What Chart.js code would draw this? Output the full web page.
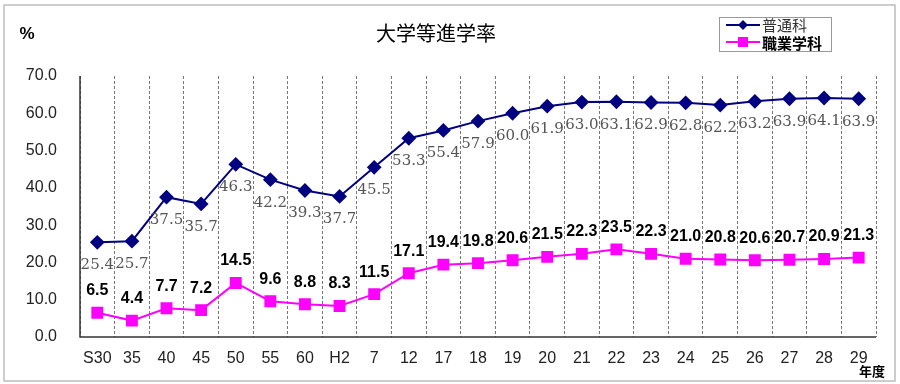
<!DOCTYPE html>
<html>
<head>
<meta charset="utf-8">
<script src="https://cdn.jsdelivr.net/npm/chart.js@4"></script>
<style>
  html, body { margin: 0; padding: 0; background: #fff; }
  #wrap { width: 900px; height: 384px; }
</style>
</head>
<body>
<div id="wrap"><canvas id="c" width="900" height="384"></canvas></div>
<script>
const years = ['S30','35','40','45','50','55','60','H2','7','12','17','18','19','20','21','22','23','24','25','26','27','28','29'];
const general = [25.4,25.7,37.5,35.7,46.3,42.2,39.3,37.7,45.5,53.3,55.4,57.9,60.0,61.9,63.0,63.1,62.9,62.8,62.2,63.2,63.9,64.1,63.9];
const vocational = [6.5,4.4,7.7,7.2,14.5,9.6,8.8,8.3,11.5,17.1,19.4,19.8,20.6,21.5,22.3,23.5,22.3,21.0,20.8,20.6,20.7,20.9,21.3];
const yTicks = [0,10,20,30,40,50,60,70];
const seriesNames = ['普通科','職業学科'];
const chartTitle = '大学等進学率';

const NAVY = '#000080';
const MAGENTA = '#ff00ff';
const sans = '"Liberation Sans", Arial, sans-serif';
const cjk = '"Noto Sans CJK JP", sans-serif';

// frame, title, legend, unit labels and value labels
const decor = {
  id: 'decor',
  afterDraw(chart) {
    const ctx = chart.ctx;
    const area = chart.chartArea;
    ctx.save();
    ctx.strokeStyle = '#bdbdbd';
    ctx.lineWidth = 1.5;
    ctx.strokeRect(4, 5, 891, 376);

    // solid axis lines over the dashed grid
    ctx.strokeStyle = '#333';
    ctx.lineWidth = 1.5;
    ctx.beginPath();
    ctx.moveTo(area.left, area.top);
    ctx.lineTo(area.left, area.bottom);
    ctx.lineTo(area.right, area.bottom);
    ctx.stroke();

    ctx.fillStyle = '#000';
    ctx.textAlign = 'center';
    ctx.textBaseline = 'middle';
    ctx.font = '20px ' + cjk;
    ctx.fillText(chartTitle, 436, 33);
    ctx.font = 'bold 17px ' + sans;
    ctx.fillText('%', 27, 34);
    ctx.font = 'bold 13px ' + cjk;
    ctx.fillText('年度', 872, 371);

    // legend
    ctx.strokeStyle = '#999';
    ctx.lineWidth = 1;
    ctx.strokeRect(719.5, 17.5, 112, 34);
    ctx.lineWidth = 2;
    ctx.strokeStyle = NAVY;
    ctx.beginPath(); ctx.moveTo(726, 25); ctx.lineTo(760, 25); ctx.stroke();
    ctx.fillStyle = NAVY;
    ctx.beginPath();
    ctx.moveTo(743, 20); ctx.lineTo(748, 25); ctx.lineTo(743, 30); ctx.lineTo(738, 25);
    ctx.closePath(); ctx.fill();
    ctx.strokeStyle = MAGENTA;
    ctx.beginPath(); ctx.moveTo(726, 42); ctx.lineTo(760, 42); ctx.stroke();
    ctx.fillStyle = MAGENTA;
    ctx.fillRect(738, 37, 10, 10);
    ctx.textAlign = 'left';
    ctx.fillStyle = '#333';
    ctx.font = '15px ' + cjk;
    ctx.fillText(seriesNames[0], 762, 25);
    ctx.fillStyle = '#000';
    ctx.font = 'bold 15px ' + cjk;
    ctx.fillText(seriesNames[1], 762, 43);

    ctx.textAlign = 'center';
    const m0 = chart.getDatasetMeta(0);
    ctx.fillStyle = '#555';
    ctx.font = '15px "DejaVu Serif", serif';
    m0.data.forEach((p, i) => {
      ctx.fillText(general[i].toFixed(1), p.x, p.y + 23);
    });
    const m1 = chart.getDatasetMeta(1);
    ctx.fillStyle = '#000';
    ctx.font = 'bold 16px ' + sans;
    m1.data.forEach((p, i) => {
      ctx.fillText(vocational[i].toFixed(1), p.x, p.y - 22);
    });
    ctx.restore();
  }
};

new Chart(document.getElementById('c'), {
  type: 'line',
  data: {
    labels: years,
    datasets: [
      {
        label: seriesNames[0],
        data: general,
        borderColor: NAVY,
        backgroundColor: NAVY,
        borderWidth: 2,
        pointStyle: 'rectRot',
        pointRadius: 6,
        pointHoverRadius: 6,
        tension: 0
      },
      {
        label: seriesNames[1],
        data: vocational,
        borderColor: MAGENTA,
        backgroundColor: MAGENTA,
        borderWidth: 2,
        pointStyle: 'rect',
        pointRadius: 7,
        pointHoverRadius: 7,
        tension: 0
      }
    ]
  },
  options: {
    responsive: false,
    animation: false,
    devicePixelRatio: 1,
    layout: { padding: { top: 76, right: 24, left: 0, bottom: 0 } },
    plugins: {
      legend: { display: false },
      title: { display: false },
      tooltip: { enabled: false }
    },
    scales: {
      x: {
        offset: true,
        grid: {
          offset: true,
          color: '#777',
          lineWidth: 1,
          drawTicks: false,
          tickLength: 0
        },
        border: { display: false, dash: [3, 2] },
        ticks: {
          color: '#222',
          font: { family: sans, size: 16 },
          padding: 12,
          maxRotation: 0,
          autoSkip: false
        },
        afterFit(s) { s.height = 47; }
      },
      y: {
        min: 0,
        max: 70,
        afterBuildTicks(s) { s.ticks = yTicks.map(v => ({ value: v })); },
        grid: { display: false, drawTicks: false, tickLength: 0 },
        border: { display: false },
        ticks: {
          color: '#222',
          font: { family: sans, size: 16 },
          padding: 23,
          callback: v => Number(v).toFixed(1)
        },
        afterFit(s) { s.width = 80; }
      }
    }
  },
  plugins: [decor]
});
</script>
</body>
</html>
